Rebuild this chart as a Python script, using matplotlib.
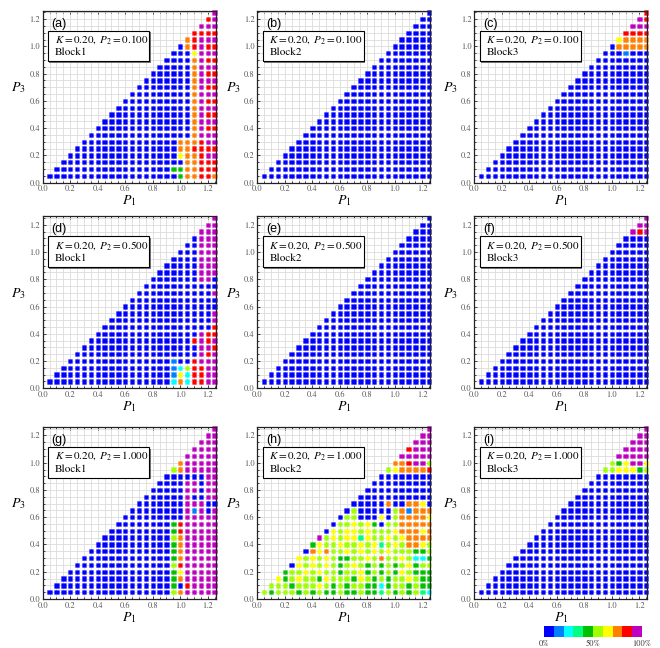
import matplotlib
matplotlib.use("Agg")
import numpy as np
import matplotlib.pyplot as plt
from matplotlib.colors import ListedColormap, to_rgba
from matplotlib.patches import Rectangle
from matplotlib.ticker import MultipleLocator, FormatStrFormatter

plt.rcParams["font.family"] = ["STIXGeneral", "DejaVu Serif"]
plt.rcParams["mathtext.fontset"] = "stix"

# grid of (P1, P3) values; rows run from the top (P3 = 1.25) down
P1_VALUES = [0.05, 0.10, 0.15, 0.20, 0.25, 0.30, 0.35, 0.40, 0.45, 0.50,
             0.55, 0.60, 0.65, 0.70, 0.75, 0.80, 0.85, 0.90, 0.95, 1.00,
             1.05, 1.10, 1.15, 1.20, 1.25]
P3_VALUES = [1.25, 1.20, 1.15, 1.10, 1.05, 1.00, 0.95, 0.90, 0.85, 0.80,
             0.75, 0.70, 0.65, 0.60, 0.55, 0.50, 0.45, 0.40, 0.35, 0.30,
             0.25, 0.20, 0.15, 0.10, 0.05]

# 10 levels: 0-10% ... 90-100%
LEVEL_COLORS = ["#0000ff", "#0080ff", "#00ffff", "#00ff80", "#00c000",
                "#a0ff00", "#ffff00", "#ff8000", "#ff0000", "#c000c0"]
BAR_LABELS = ["0%", "50%", "100%"]

K_VALUE = 0.20
P2_VALUES = [0.100, 0.500, 1.000]
BLOCK_NAMES = ["Block1", "Block2", "Block3"]
PANEL_LETTERS = ["(a)", "(b)", "(c)", "(d)", "(e)", "(f)", "(g)", "(h)", "(i)"]

# level per point, each row right-aligned at P1 = 1.25 (spaces only group by 5)
ALL_BLUE = [
    "0",
    "00",
    "000",
    "0000",
    "00000",
    "0 00000",
    "00 00000",
    "000 00000",
    "0000 00000",
    "00000 00000",
    "0 00000 00000",
    "00 00000 00000",
    "000 00000 00000",
    "0000 00000 00000",
    "00000 00000 00000",
    "0 00000 00000 00000",
    "00 00000 00000 00000",
    "000 00000 00000 00000",
    "0000 00000 00000 00000",
    "00000 00000 00000 00000",
    "0 00000 00000 00000 00000",
    "00 00000 00000 00000 00000",
    "000 00000 00000 00000 00000",
    "0000 00000 00000 00000 00000",
    "00000 00000 00000 00000 00000",
]

GRID_A = [
    "9",
    "89",
    "999",
    "8888",
    "78999",
    "0 78988",
    "00 06999",
    "000 07988",
    "0000 07999",
    "00000 07988",
    "0 00000 07999",
    "00 00000 07988",
    "000 00000 07999",
    "0000 00000 07988",
    "00000 00000 07999",
    "0 00000 00000 07988",
    "00 00000 00000 07999",
    "000 00000 00000 07988",
    "0000 00000 00000 07999",
    "00000 00000 00007 77899",
    "0 00000 00000 00007 78888",
    "00 00000 00000 00006 77899",
    "000 00000 00000 00000 77888",
    "0000 00000 00000 00044 77888",
    "00000 00000 00000 00004 77887",
]

GRID_B = ALL_BLUE

GRID_C = ["8", "98", "999", "8888", "67777", "0 77777", "00 01000"] + ALL_BLUE[7:]

GRID_D = [
    "9",
    "99",
    "999",
    "0999",
    "00999",
    "0 00999",
    "00 00999",
    "000 00999",
    "0000 00999",
    "00000 00990",
    "0 00000 00000",
    "00 00000 00009",
    "000 00000 00000",
    "0000 00000 00000",
    "00000 00000 00009",
    "0 00000 00000 00009",
    "00 00000 00000 00008",
    "000 00000 00000 00988",
    "0000 00000 00000 08989",
    "00000 00000 00000 00998",
    "0 00000 00000 00000 00989",
    "00 00000 00000 00010 08999",
    "000 00000 00000 00012 58899",
    "0000 00000 00000 00016 28899",
    "00000 00000 00000 00027 28899",
]

GRID_E = ALL_BLUE

GRID_F = ["9", "99", "989"] + ALL_BLUE[3:]

GRID_G = [
    "9",
    "99",
    "999",
    "9999",
    "99999",
    "7 99999",
    "57 99999",
    "000 00099",
    "0000 99099",
    "00000 99099",
    "0 00000 90099",
    "00 00000 99900",
    "000 00000 91909",
    "0000 00000 99999",
    "00000 00048 99999",
    "0 00000 00048 99999",
    "00 00000 00057 99999",
    "000 00000 00047 99999",
    "0000 00000 00047 99999",
    "00000 00000 00047 99999",
    "0 00000 00000 00058 99999",
    "00 00000 00000 00046 99999",
    "000 00000 00000 00047 99999",
    "0000 00000 00000 00040 89999",
    "00000 00000 00000 00057 99999",
]

GRID_H = [
    "9",
    "99",
    "999",
    "8999",
    "99999",
    "7 78995",
    "56 77778",
    "000 00000",
    "0000 00000",
    "00000 00000",
    "0 00000 00000",
    "00 00070 07760",
    "050 00005 71777",
    "0550 00605 77776",
    "05565 64055 77777",
    "0 65665 65556 77767",
    "95 65663 65565 67777",
    "465 56556 56356 57765",
    "0767 55656 56565 55445",
    "65656 54455 65755 65224",
    "0 65656 54565 45454 56455",
    "45 56565 54556 45454 65444",
    "645 65546 55546 54545 56544",
    "5554 55565 45455 44245 54544",
    "54555 45454 45445 44354 54532",
]

GRID_I = ["9", "99", "999", "9999", "99999", "5 46996", "55 66645"] + ALL_BLUE[7:]

PANEL_GRIDS = [GRID_A, GRID_B, GRID_C, GRID_D, GRID_E, GRID_F, GRID_G, GRID_H, GRID_I]


def draw_panel(ax, rows, letter, p2, block):
    xs, ys, cs = [], [], []
    for p3, row in zip(P3_VALUES, rows):
        vals = row.replace(" ", "")
        for p1, v in zip(P1_VALUES[-len(vals):], vals):
            xs.append(p1)
            ys.append(p3)
            cs.append(LEVEL_COLORS[int(v)])

    halo = [to_rgba(c, 0.3) for c in cs]
    ax.scatter(xs, ys, c=cs, marker="s", s=10, edgecolors=halo,
               linewidths=0.6, clip_on=False, zorder=2)

    ax.set_xlim(0, 1.258)
    ax.set_ylim(0, 1.262)
    ax.xaxis.set_major_locator(MultipleLocator(0.2))
    ax.yaxis.set_major_locator(MultipleLocator(0.2))
    ax.xaxis.set_minor_locator(MultipleLocator(0.05))
    ax.yaxis.set_minor_locator(MultipleLocator(0.05))
    ax.xaxis.set_major_formatter(FormatStrFormatter("%.1f"))
    ax.yaxis.set_major_formatter(FormatStrFormatter("%.1f"))
    ax.grid(which="both", color="#dcdcdc", linewidth=0.6)
    ax.set_axisbelow(True)
    ax.tick_params(which="both", direction="in", top=True, right=True,
                   labelsize=6, labelcolor="#555555", width=0.5, pad=2)
    ax.tick_params(which="major", length=2.5)
    ax.tick_params(which="minor", length=1.5)
    for sp in ax.spines.values():
        sp.set_linewidth(0.9)
        sp.set_color("#222222")

    ax.set_xlabel("$P_1$", fontsize=10, labelpad=0)
    ax.set_ylabel("$P_3$", fontsize=10, rotation=0)
    ax.yaxis.set_label_coords(-0.14, 0.51)

    ax.text(0.05, 0.925, letter, transform=ax.transAxes, fontsize=9,
            family=["Liberation Sans", "DejaVu Sans"], ha="left", va="center", zorder=6)

    # label box with a small shadow
    x0, y0, w, h = 0.031, 0.705, 0.586, 0.179
    ax.add_patch(Rectangle((x0 + 0.008, y0 - 0.009), w, h, transform=ax.transAxes,
                           facecolor="#777777", edgecolor="none", zorder=4, clip_on=False))
    ax.add_patch(Rectangle((x0, y0), w, h, transform=ax.transAxes,
                           facecolor="white", edgecolor="black", linewidth=0.8,
                           zorder=5, clip_on=False))
    ax.text(0.07, 0.832, r"$K = %.2f,\ P_2 = %.3f$" % (K_VALUE, p2),
            transform=ax.transAxes, fontsize=8, ha="left", va="center", zorder=6)
    ax.text(0.07, 0.757, block, transform=ax.transAxes, fontsize=8,
            ha="left", va="center", zorder=6)


fig = plt.figure(figsize=(6.6, 6.48), dpi=100)

col_left = [42.7 / 660, 257.3 / 660, 474.3 / 660]
row_bottom = [1 - 182.7 / 648, 1 - 388.3 / 648, 1 - 599.0 / 648]
ax_w = 173 / 660
ax_h = 172 / 648

for i in range(3):
    for j in range(3):
        k = i * 3 + j
        ax = fig.add_axes([col_left[j], row_bottom[i], ax_w, ax_h])
        draw_panel(ax, PANEL_GRIDS[k], PANEL_LETTERS[k], P2_VALUES[i], BLOCK_NAMES[j])

# colour key
cax = fig.add_axes([544 / 660, 1 - 637 / 648, 98 / 660, 11 / 648])
cax.imshow(np.arange(len(LEVEL_COLORS)).reshape(1, -1), cmap=ListedColormap(LEVEL_COLORS),
           aspect="auto", extent=[0, len(LEVEL_COLORS), 0, 1])
cax.set_yticks([])
cax.set_xticks([0, 5, 10])
cax.set_xticklabels(BAR_LABELS)
cax.tick_params(length=0, labelsize=6, pad=2, labelcolor="#333333")
for sp in cax.spines.values():
    sp.set_visible(False)

fig.savefig("out.png", dpi=100)
